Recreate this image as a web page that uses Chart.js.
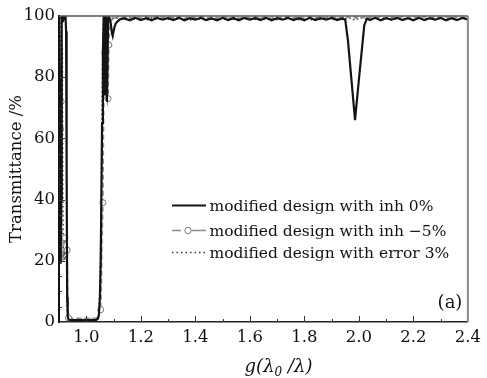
<!DOCTYPE html>
<html>
<head>
<meta charset="utf-8">
<script src="https://cdn.jsdelivr.net/npm/chart.js@4/dist/chart.umd.min.js"></script>
<style>
  body { margin: 0; background: #fff; }
  #wrap { width: 487px; height: 378px; }
</style>
</head>
<body>
<div id="wrap"><canvas id="chart" width="487" height="378"></canvas></div>
<script>
// g(lambda0/lambda) sample positions (shared by all three curves)
const gVals = [
  0.900,0.902,0.904,0.906,0.908,0.910,0.912,0.914,0.916,0.918,
  0.920,0.922,0.924,0.926,0.928,0.930,0.932,0.935,0.940,0.960,
  0.980,1.000,1.020,1.035,1.042,1.046,1.050,1.053,1.056,1.058,
  1.061,1.064,1.066,1.068,1.070,1.072,1.074,1.076,1.078,1.080,
  1.083,1.086,1.090,1.094,1.097,1.100,1.104,1.108,1.112,1.118,
  1.125,
  1.14,1.16,1.18,1.20,1.22,1.24,1.26,1.28,1.30,1.32,
  1.34,1.36,1.38,1.40,1.42,1.44,1.46,1.48,1.50,1.52,
  1.54,1.56,1.58,1.60,1.62,1.64,1.66,1.68,1.70,1.72,
  1.74,1.76,1.78,1.80,1.82,1.84,1.86,1.88,1.90,1.92,
  1.94,
  1.95,1.96,1.97,1.98,1.986,1.99,2.00,2.01,2.02,2.03,
  2.04,2.06,2.08,2.10,2.12,2.14,2.16,2.18,2.20,2.22,
  2.24,2.26,2.28,2.30,2.32,2.34,2.36,2.38,2.40
];

// transmittance (%) - modified design with inh 0%
const inh0 = [
  100,100,55,19,40,100,100,98,99,100,
  100,100,100,95,50,8,2,0.8,0.6,0.6,
  0.6,0.6,0.6,0.6,1,2,8,20,45,65,
  88,100,86,74,90,100,88,72,84,99,
  100,99,97.5,94.5,93.5,95,96.5,97.5,98,98.5,
  99,
  99.2,98.6,99.4,98.7,99.3,98.6,99.4,98.8,99.3,98.7,
  99.4,98.6,99.3,98.8,99.4,98.7,99.2,98.6,99.4,98.7,
  99.3,98.6,99.4,98.8,99.3,98.7,99.4,98.6,99.3,98.8,
  99.4,98.7,99.3,98.6,99.4,98.7,99.3,98.8,99.4,98.7,
  99.2,
  98.8,92,82,72,66,69.7,79,88,97,99.2,
  98.7,99.4,98.6,99.3,98.8,99.4,98.7,99.3,98.6,99.4,
  98.7,99.3,98.8,99.4,98.6,99.3,98.7,99.4,98.9
];

// modified design with inh -5%
const inhMinus5 = [
  100,80,40,63,72,45,25,20,22,26,
  27,27.5,26,25,24,23.5,8,1.3,1.2,1.2,
  1.2,1.2,1.2,1.2,1.5,2.5,3,4,15,28,
  39,70,85,88,92,85,78,74,72,73,
  90.5,96,98,99,98.5,99,99.3,99.5,99.4,99.6,
  99.5,
  99.6,99.2,99.8,99.3,99.7,99.2,99.8,99.4,99.7,99.3,
  99.8,99.2,99.7,99.4,99.8,99.3,99.6,99.2,99.8,99.3,
  99.7,99.2,99.8,99.4,99.7,99.3,99.8,99.2,99.7,99.4,
  99.8,99.3,99.7,99.2,99.8,99.3,99.7,99.4,99.8,99.3,
  99.6,
  99.3,99.7,99.2,99.6,99.7,99.3,99.8,99.3,99.7,99.2,
  99.6,99.3,99.8,99.2,99.7,99.4,99.8,99.3,99.7,99.2,
  99.8,99.3,99.7,99.4,99.8,99.2,99.7,99.3,99.6
];

// modified design with error 3%
const error3 = [
  100,40,100,60,20,55,90,40,21,22,
  20,24,22,21,21,5,1,0.9,0.9,0.9,
  0.9,0.9,0.9,0.9,1.2,3,10,25,50,70,
  92,100,97,93,88,85,90,96,99,100,
  99.5,99,99.3,99.6,99.4,99.2,99.4,99.5,99.3,99.2,
  99.0,
  98.8,99.4,98.9,99.3,98.7,99.4,98.9,99.2,98.8,99.4,
  98.9,99.3,98.7,99.4,98.8,99.2,98.9,99.4,98.7,99.3,
  98.9,99.4,98.8,99.2,98.9,99.3,98.7,99.4,98.8,99.3,
  98.9,99.2,98.8,99.4,98.7,99.3,98.9,99.4,98.8,99.2,
  98.9,
  99.3,98.9,99.4,98.8,99.0,99.3,98.8,99.4,98.9,99.2,
  98.8,99.3,98.9,99.4,98.7,99.2,98.9,99.4,98.8,99.3,
  98.9,99.2,98.8,99.4,98.9,99.3,98.7,99.2,99.0
];

// where the circle markers of the inh -5% curve sit
const markerG = [0.906, 0.908, 0.922, 0.930, 0.935, 1.053, 1.061, 1.068, 1.080, 1.083];

const seriesLabels = [
  'modified design with inh 0%',
  'modified design with inh \u22125%',
  'modified design with error 3%'
];
const xTickVals = [1.0, 1.2, 1.4, 1.6, 1.8, 2.0, 2.2, 2.4];

const SERIF = '"DejaVu Serif", "Liberation Serif", serif';

function toPoints(vals) {
  return gVals.map((g, i) => ({ x: g, y: vals[i] }));
}

// frame, inward ticks, legend, panel tag and x title
const decor = {
  id: 'decor',
  afterDraw(chart) {
    const ctx = chart.ctx;
    const a = chart.chartArea;
    const xs = chart.scales.x, ys = chart.scales.y;
    ctx.save();

    // top and right border
    ctx.strokeStyle = '#555';
    ctx.lineWidth = 1.5;
    ctx.beginPath();
    ctx.moveTo(a.left, a.top);
    ctx.lineTo(a.right, a.top);
    ctx.stroke();
    ctx.strokeStyle = '#8a8a8a';
    ctx.lineWidth = 2;
    ctx.beginPath();
    ctx.moveTo(a.right, a.top);
    ctx.lineTo(a.right, a.bottom);
    ctx.stroke();

    // ticks pointing inward
    ctx.strokeStyle = '#333';
    ctx.lineWidth = 1;
    ctx.beginPath();
    for (let k = 10; k < 24; k++) {
      const px = Math.round(xs.getPixelForValue(k / 10)) + 0.5;
      const len = k % 2 === 0 ? 6 : 3;
      ctx.moveTo(px, a.bottom);
      ctx.lineTo(px, a.bottom - len);
    }
    for (let k = 1; k < 20; k++) {
      const py = Math.round(ys.getPixelForValue(k * 5)) + 0.5;
      const len = k % 4 === 0 ? 6 : 3;
      ctx.moveTo(a.left, py);
      ctx.lineTo(a.left + len, py);
    }
    ctx.stroke();

    // legend
    const ds = chart.data.datasets;
    const rows = [205.5, 230.5, 252.5];
    const x0 = 172, x1 = 206;
    ds.forEach((d, i) => {
      const y = rows[i];
      ctx.strokeStyle = d.borderColor;
      ctx.lineWidth = d.borderWidth;
      ctx.setLineDash(d.borderDash || []);
      ctx.beginPath();
      if (i === 1) {
        ctx.setLineDash([]);
        ctx.moveTo(x0, y); ctx.lineTo(x0 + 9, y);
        ctx.moveTo(x0 + 19.5, y); ctx.lineTo(x1, y);
        ctx.stroke();
        ctx.beginPath();
        ctx.arc(x0 + 16, y, 3.2, 0, Math.PI * 2);
        ctx.fillStyle = d.pointBackgroundColor;
        ctx.fill();
        ctx.strokeStyle = d.pointBorderColor;
        ctx.lineWidth = 1;
        ctx.stroke();
      } else {
        ctx.moveTo(x0, y); ctx.lineTo(x1, y);
        ctx.stroke();
      }
      ctx.setLineDash([]);
      ctx.fillStyle = '#111';
      ctx.font = '15.5px ' + SERIF;
      ctx.textAlign = 'left';
      ctx.textBaseline = 'alphabetic';
      ctx.fillText(d.label, 209.5, y + 5);
    });

    // panel tag
    ctx.font = '18px ' + SERIF;
    ctx.textAlign = 'center';
    ctx.fillText('(a)', 450, 308);

    // x title g(lambda0 / lambda)
    const big = 'italic 18px ' + SERIF, small = 'italic 12px ' + SERIF;
    const p1 = 'g(\u03bb', p2 = '0', p3 = ' /\u03bb)';
    ctx.font = big; const w1 = ctx.measureText(p1).width, w3 = ctx.measureText(p3).width;
    ctx.font = small; const w2 = ctx.measureText(p2).width;
    let tx = 278.5 - (w1 + w2 + w3) / 2;
    const base = 372;
    ctx.textAlign = 'left';
    ctx.font = big; ctx.fillText(p1, tx, base); tx += w1;
    ctx.font = small; ctx.fillText(p2, tx, base + 4); tx += w2;
    ctx.font = big; ctx.fillText(p3, tx, base);

    ctx.restore();
  }
};

new Chart(document.getElementById('chart'), {
  type: 'line',
  data: {
    datasets: [
      {
        label: seriesLabels[0],
        data: toPoints(inh0),
        borderColor: '#141414',
        borderWidth: 2.2,
        pointRadius: 0
      },
      {
        label: seriesLabels[1],
        data: toPoints(inhMinus5),
        borderColor: '#8c8c8c',
        borderWidth: 1.6,
        borderDash: [5, 3],
        pointRadius: gVals.map(g => markerG.includes(g) ? 3 : 0),
        pointBackgroundColor: '#ffffff',
        pointBorderColor: '#7a7a7a',
        pointBorderWidth: 1
      },
      {
        label: seriesLabels[2],
        data: toPoints(error3),
        borderColor: '#3c3c3c',
        borderWidth: 1.6,
        borderDash: [1.5, 3],
        pointRadius: 0
      }
    ]
  },
  options: {
    responsive: false,
    animation: false,
    events: [],
    layout: { padding: { left: 0, top: 16, right: 17.5, bottom: 0 } },
    elements: { line: { tension: 0 } },
    plugins: {
      legend: { display: false },
      tooltip: { enabled: false }
    },
    scales: {
      x: {
        type: 'linear',
        min: 0.9,
        max: 2.4,
        afterBuildTicks: s => { s.ticks = xTickVals.map(v => ({ value: v })); },
        afterFit: s => { s.height = 56; },
        grid: { display: false, drawTicks: false },
        border: { color: '#222', width: 1.5 },
        ticks: {
          padding: 6,
          color: '#111',
          font: { family: SERIF, size: 16.5 },
          callback: v => v.toFixed(1),
          maxRotation: 0
        }
      },
      y: {
        min: 0,
        max: 100,
        afterFit: s => { s.width = 59; },
        grid: { display: false, drawTicks: false },
        border: { color: '#111', width: 2 },
        ticks: {
          stepSize: 20,
          padding: 4,
          color: '#111',
          font: { family: SERIF, size: 16.5 }
        },
        title: {
          display: true,
          text: 'Transmittance /%',
          color: '#111',
          font: { family: SERIF, size: 16.5 },
          padding: { top: 7, bottom: 0 }
        }
      }
    }
  },
  plugins: [decor]
});
</script>
</body>
</html>
